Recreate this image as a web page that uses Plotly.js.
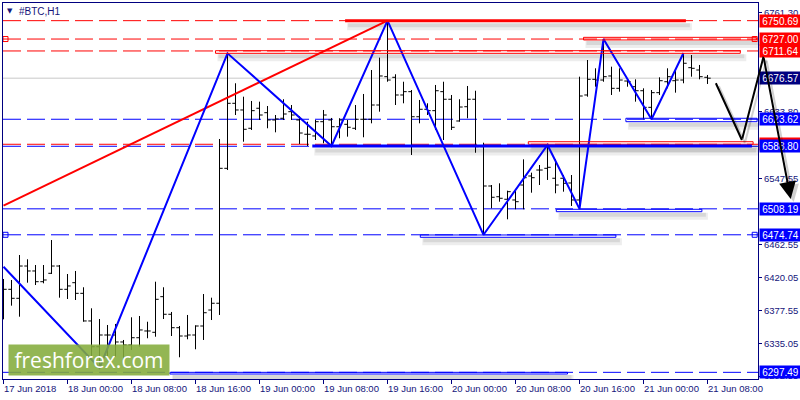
<!DOCTYPE html>
<html><head><meta charset="utf-8">
<script src="https://cdn.plot.ly/plotly-3.0.1.min.js"></script>
<style>html,body{margin:0;padding:0;background:#fff}#chart{width:800px;height:400px}</style>
</head><body><div id="chart"></div>
<script>
// ---------- data ----------
const tickIndex = [0, 8, 16, 24, 32, 40, 48, 56, 64, 72, 80, 88];
const tickLabels = ["17 Jun 2018", "18 Jun 00:00", "18 Jun 08:00", "18 Jun 16:00", "19 Jun 00:00", "19 Jun 08:00",
  "19 Jun 16:00", "20 Jun 00:00", "20 Jun 08:00", "20 Jun 16:00", "21 Jun 00:00", "21 Jun 08:00"];

const open = [6411.3,6404.5,6392.9,6434.5,6428.1,6414.3,6425.1,6434.5,6404.5,6413.0,
  6399.3,6363.7,6330.5,6345.6,6345.6,6336.6,6332.7,6342.1,6350.8,6349.1,
  6395.0,6372.3,6355.0,6344.3,6345.6,6357.2,6377.8,6386.5,6560.4,6644.2,
  6635.6,6612.0,6637.8,6632.1,6622.7,6624.9,6633.4,6622.7,6604.3,6602.1,
  6620.5,6622.7,6614.0,6617.1,6612.0,6623.6,6623.6,6642.0,6678.5,6677.7,
  6654.9,6659.2,6626.9,6636.5,6634.7,6659.2,6649.4,6621.4,6639.8,6649.4,
  6588.3,6537.6,6523.8,6520.5,6519.6,6538.9,6550.5,6558.2,6560.4,6547.6,
  6547.6,6541.5,6519.6,6654.9,6675.1,6674.2,6679.4,6663.5,6672.9,6665.6,
  6660.4,6639.0,6657.9,6672.0,6673.3,6674.2,6690.1,6687.1,6677.7];
const high = [6417.8,6416.5,6448.7,6443.2,6435.8,6435.8,6468.0,6435.8,6424.2,6428.1,
  6407.1,6380.0,6366.2,6358.5,6359.8,6339.2,6368.4,6370.1,6362.7,6414.3,
  6407.1,6375.3,6357.2,6371.4,6358.1,6398.4,6393.7,6598.2,6708.6,6670.0,
  6652.7,6647.2,6646.3,6640.7,6629.1,6649.4,6642.0,6627.8,6620.5,6622.7,
  6635.6,6625.3,6624.9,6622.7,6642.0,6656.2,6687.1,6703.0,6750.7,6681.6,
  6672.0,6661.3,6648.5,6644.2,6667.8,6672.0,6654.9,6649.4,6666.5,6660.4,
  6593.4,6538.9,6541.1,6531.6,6533.4,6572.0,6554.8,6564.7,6590.5,6572.0,
  6551.8,6551.8,6678.5,6700.0,6689.3,6727.0,6691.4,6689.3,6676.4,6675.1,
  6663.5,6661.3,6677.7,6689.3,6687.1,6709.0,6706.4,6693.6,6680.7];
const low = [6365.8,6383.4,6369.2,6413.0,6410.0,6412.2,6424.2,6393.7,6392.0,6390.7,
  6362.7,6317.3,6303.1,6317.3,6317.3,6313.4,6326.3,6330.5,6341.4,6343.4,
  6366.2,6344.3,6316.9,6340.1,6327.2,6339.2,6364.9,6371.4,6558.2,6629.1,
  6594.7,6609.8,6622.7,6612.0,6606.8,6622.7,6622.7,6591.8,6589.2,6596.9,
  6592.7,6589.2,6599.1,6601.2,6609.8,6600.4,6618.4,6633.4,6672.0,6642.0,
  6644.2,6577.6,6618.4,6629.1,6609.8,6596.9,6609.8,6620.5,6624.9,6580.5,
  6474.7,6508.9,6517.4,6494.7,6507.6,6507.6,6529.0,6538.9,6545.4,6528.2,
  6530.3,6511.9,6508.2,6652.7,6665.6,6672.0,6654.9,6659.2,6665.6,6646.3,
  6623.6,6623.6,6654.9,6663.5,6657.9,6670.0,6678.5,6675.1,6669.1];
const close = [6404.5,6392.9,6434.5,6428.1,6414.3,6416.5,6434.5,6404.5,6408.8,6399.3,
  6363.7,6330.5,6345.6,6345.6,6336.6,6332.7,6342.1,6352.1,6350.8,6391.6,
  6372.3,6355.0,6344.3,6345.6,6357.2,6374.3,6386.5,6560.4,6644.2,6635.6,
  6610.7,6634.7,6629.1,6622.7,6624.0,6630.4,6629.1,6605.9,6604.3,6620.5,
  6629.1,6614.0,6622.7,6613.3,6623.6,6623.6,6642.0,6679.4,6674.2,6654.9,
  6659.2,6626.9,6636.5,6634.7,6660.4,6649.4,6613.3,6639.4,6649.4,6588.3,
  6537.6,6523.1,6521.8,6530.3,6517.4,6548.3,6548.3,6558.2,6561.7,6538.9,
  6541.1,6519.6,6653.6,6675.1,6674.2,6678.5,6663.5,6674.2,6672.0,6660.4,
  6639.0,6657.9,6673.3,6678.5,6674.2,6695.8,6689.3,6678.5,6676.57];

const zigzagIndex = [0, 12, 28, 41, 48, 60, 68, 72, 75, 81, 85];
const zigzagPrice = [6433.6, 6303.1, 6708.6, 6589.2, 6750.69, 6474.74, 6590.5, 6508.19, 6727.0, 6623.62, 6709.0];

const trendIndex = [0, 48];
const trendPrice = [6512.4, 6750.69];

const forecastIndex = [88.96, 92.3, 95.0, 98.4];
const forecastPrice = [6672.0, 6596.9, 6704.3, 6521.0];

const redLevels = [6750.69, 6727.00, 6711.64, 6591.40];
const blueLevels = [6623.62, 6588.80, 6508.19, 6474.74, 6297.49];
const bidPrice = 6676.57;

const labelPrices = [6750.69, 6727.00, 6711.64, 6676.57, 6623.62, 6591.40, 6588.80, 6508.19, 6474.74, 6297.49];
const labelTexts  = ["6750.69", "6727.00", "6711.64", "6676.57", "6623.62", "&nbsp;", "6588.80", "6508.19", "6474.74", "6297.49"];
const labelKinds  = ["red", "red", "red", "bid", "blue", "red", "blue", "blue", "blue", "blue"];

const yTickVals = [6761.30, 6633.80, 6547.55, 6462.55, 6420.05, 6377.55, 6335.05, 6292.55];

const zoneLow   = [6725.8, 6708.6, 6620.5, 6591.4, 6504.5, 6471.5, 6295.3];
const zoneHigh  = [6729.2, 6712.0, 6624.9, 6594.7, 6507.6, 6474.5, 6297.5];
const zoneStart = [72.5, 26.5, 77.8, 65.6, 69.1, 52.1, 20.8];
const zoneEnd   = [94.1, 92.1, 94.2, 93.7, 87.3, 76.55, 70.5];
const zoneKind  = ["red", "red", "blue", "red", "blue", "blue", "blue"];

const thickLevel = [6750.69, 6589.17];
const thickStart = [42.7, 38.6];
const thickEnd   = [85.3, 93.55];
const thickKind  = ["red", "blue"];

const anchorIndex = [0.25, 93.9, 0.25, 93.9];
const anchorPrice = [6727.00, 6727.00, 6474.74, 6474.74];
const anchorKind  = ["red", "red", "blue", "blue"];

// ---------- styling ----------
const COL = {red: "#FF0000", blue: "#0000FF", bid: "#000080"};
const AXIS = "#000080", TXT = "#14147a";
const W = 800, H = 400, M = {l: 3, r: 42, t: 3, b: 21};
const xRange = [-0.0625, 94.3125];
const yRange = [6288.9, 6773.45];
const pxP = (yRange[1] - yRange[0]) / (H - M.t - M.b);
const pxI = (xRange[1] - xRange[0]) / (W - M.l - M.r);
const toPaperX = i => (i - xRange[0]) / (xRange[1] - xRange[0]);
const FONT = "Liberation Sans, Arial, sans-serif";

const idx = open.map((_, i) => i);

const traces = [
  {type: "ohlc", x: idx, open: open, high: high, low: low, close: close,
   increasing: {line: {color: "#000", width: 1}}, decreasing: {line: {color: "#000", width: 1}},
   tickwidth: 0.4, hoverinfo: "skip", showlegend: false},
  {type: "scatter", mode: "lines", x: trendIndex, y: trendPrice,
   line: {color: COL.red, width: 2}, hoverinfo: "skip", showlegend: false},
  {type: "scatter", mode: "lines", x: zigzagIndex, y: zigzagPrice,
   line: {color: COL.blue, width: 2}, hoverinfo: "skip", showlegend: false},
  {type: "scatter", mode: "markers", x: anchorIndex, y: anchorPrice, cliponaxis: false,
   marker: {symbol: "square-open", size: 5, color: anchorKind.map(k => COL[k]), line: {width: 1}},
   hoverinfo: "skip", showlegend: false}
];

const shapes = [];
shapes.push({type: "line", xref: "paper", x0: 0, x1: 1, yref: "y", y0: bidPrice, y1: bidPrice,
  line: {color: "#c8c8c8", width: 1}, layer: "below"});
redLevels.forEach(p => shapes.push({type: "line", xref: "paper", x0: 0, x1: 1, yref: "y", y0: p, y1: p,
  line: {color: COL.red, width: 1, dash: "18px,6px"}, layer: "below"}));
blueLevels.forEach(p => shapes.push({type: "line", xref: "paper", x0: 0, x1: 1, yref: "y", y0: p, y1: p,
  line: {color: COL.blue, width: 1, dash: "18px,6px"}, layer: "below"}));

function shadow(x0, x1, yBottom) {
  shapes.push({type: "rect", xref: "x", yref: "y", x0: x0 + 2 * pxI, x1: x1 + 6 * pxI,
    y0: yBottom - 8 * pxP, y1: yBottom - 1 * pxP, fillcolor: "rgba(0,0,0,0.07)", line: {width: 0}, layer: "below"});
  shapes.push({type: "rect", xref: "x", yref: "y", x0: x0 + 3 * pxI, x1: x1 + 4 * pxI,
    y0: yBottom - 5 * pxP, y1: yBottom - 1 * pxP, fillcolor: "rgba(0,0,0,0.09)", line: {width: 0}, layer: "below"});
}
zoneLow.forEach((lo, k) => {
  shadow(zoneStart[k], zoneEnd[k], lo);
  shapes.push({type: "rect", xref: "x", yref: "y", x0: zoneStart[k], x1: zoneEnd[k], y0: lo, y1: zoneHigh[k],
    line: {color: COL[zoneKind[k]], width: 1}, fillcolor: "rgba(0,0,0,0)", layer: "above"});
});
thickLevel.forEach((p, k) => {
  shadow(thickStart[k], thickEnd[k], p - 1.5 * pxP);
  shapes.push({type: "line", xref: "x", yref: "y", x0: thickStart[k], x1: thickEnd[k], y0: p, y1: p,
    line: {color: COL[thickKind[k]], width: 3}, layer: "above"});
});

const annotations = [];
tickIndex.forEach((t, k) => annotations.push({xref: "x", yref: "paper", x: t, y: 0, xanchor: "left", yanchor: "top",
  xshift: -2, yshift: -2, text: tickLabels[k], showarrow: false, font: {family: FONT, size: 9.5, color: TXT}}));
labelPrices.forEach((p, k) => annotations.push({xref: "paper", yref: "y", x: 1, y: p, xanchor: "left", yanchor: "middle",
  xshift: 1, text: labelTexts[k], showarrow: false, bgcolor: COL[labelKinds[k]], width: 39, height: 10, borderpad: 1,
  align: "center", font: {family: FONT, size: 10, color: "#fff"}}));
// forecast arrow: head in paper/y coords (may lie right of the plot), tail as pixel offset
for (let pass = 0; pass < 2; pass++) {
  for (let k = 0; k < forecastIndex.length - 1; k++) {
    const offX = pass === 0 ? 3 : 0, offY = pass === 0 ? 3 : 0;
    const last = k === forecastIndex.length - 2;
    annotations.push({xref: "paper", yref: "y", axref: "pixel", ayref: "pixel",
      x: toPaperX(forecastIndex[k + 1] + offX * pxI), y: forecastPrice[k + 1] - offY * pxP,
      ax: (forecastIndex[k] - forecastIndex[k + 1]) / pxI,
      ay: (forecastPrice[k + 1] - forecastPrice[k]) / pxP,
      text: "", showarrow: true, arrowhead: last ? 2 : 0, arrowsize: last ? 1.7 : 1, arrowwidth: 2,
      arrowcolor: pass === 0 ? "rgba(0,0,0,0.18)" : "#000", standoff: 0, startstandoff: 0});
  }
}
annotations.push({xref: "paper", yref: "paper", x: (10 - M.l) / (W - M.l - M.r), y: (H - M.b - 11) / (H - M.t - M.b),
  xanchor: "center", yanchor: "middle", text: "▼", showarrow: false, font: {family: "DejaVu Sans", size: 7, color: TXT}});
annotations.push({xref: "paper", yref: "paper", x: (17 - M.l) / (W - M.l - M.r), y: (H - M.b - 11) / (H - M.t - M.b),
  xanchor: "left", yanchor: "middle", text: "#BTC,H1", showarrow: false, font: {family: FONT, size: 10, color: TXT}});
annotations.push({xref: "paper", yref: "paper", x: (89 - M.l) / (W - M.l - M.r), y: (H - M.b - 360) / (H - M.t - M.b),
  xanchor: "center", yanchor: "middle", text: "freshforex.com", showarrow: false, width: 158, height: 28, borderpad: 1,
  bgcolor: "rgba(132,172,60,0.88)", font: {family: "Open Sans, sans-serif", size: 21, color: "#fff"}});

const layout = {
  width: W, height: H, margin: M, paper_bgcolor: "#fff", plot_bgcolor: "#fff", showlegend: false, hovermode: false,
  xaxis: {range: xRange, showgrid: false, zeroline: false, showline: true, linecolor: AXIS, linewidth: 1, mirror: true,
    ticks: "outside", ticklen: 4, tickcolor: AXIS, tickvals: tickIndex, showticklabels: false,
    rangeslider: {visible: false}, fixedrange: true},
  yaxis: {range: yRange, side: "right", showgrid: false, zeroline: false, showline: true, linecolor: AXIS, linewidth: 1,
    mirror: true, ticks: "outside", ticklen: 3, tickcolor: AXIS, tickvals: yTickVals,
    ticktext: yTickVals.map(v => v.toFixed(2)), tickfont: {family: FONT, size: 9.5, color: TXT}, fixedrange: true},
  shapes: shapes, annotations: annotations
};
Plotly.newPlot("chart", traces, layout, {staticPlot: true, displayModeBar: false});
</script></body></html>
